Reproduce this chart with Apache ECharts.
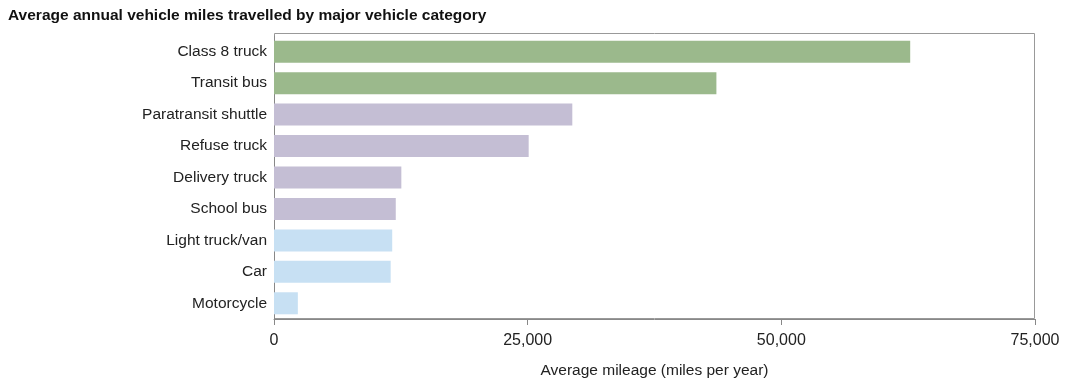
<!DOCTYPE html>
<html>
<head>
<meta charset="utf-8">
<script src="https://cdn.jsdelivr.net/npm/echarts@6/dist/echarts.min.js"></script>
<style>
html,body{margin:0;padding:0;background:#fff;}
#c{width:1080px;height:392px;}
</style>
</head>
<body>
<div id="c"></div>
<script>
var categories = ["Class 8 truck","Transit bus","Paratransit shuttle","Refuse truck","Delivery truck","School bus","Light truck/van","Car","Motorcycle"];
var mileage = [62700, 43600, 29400, 25100, 12550, 12000, 11650, 11500, 2350];
var groups = [0, 0, 1, 1, 1, 1, 2, 2, 2];
var groupColors = ["#9bb98c", "#c4bed4", "#c7e0f3"];
var xTicks = [0, 25000, 50000, 75000];

var chart = echarts.init(document.getElementById('c'), null, {renderer: 'canvas'});
var font = "Liberation Sans, Arial, Helvetica, sans-serif";
chart.setOption({
  animation: false,
  backgroundColor: '#fff',
  title: {
    text: 'Average annual vehicle miles travelled by major vehicle category',
    left: 3, top: 3,
    textStyle: {fontFamily: font, fontSize: 15.5, fontWeight: 'bold', color: '#111'}
  },
  graphic: [{
    type: 'rect', silent: true, z: 0,
    shape: {x: 274.5, y: 33.5, width: 760, height: 285},
    style: {fill: 'none', stroke: '#999', lineWidth: 1}
  }],
  grid: {left: 274, right: 45, top: 36, bottom: 73, show: false},
  xAxis: {
    type: 'value', min: xTicks[0], max: xTicks[xTicks.length-1], interval: 25000,
    name: 'Average mileage (miles per year)', nameLocation: 'middle', nameGap: 44,
    nameTextStyle: {fontFamily: font, fontSize: 15.5, color: '#222'},
    axisLine: {show: true, lineStyle: {color: '#888'}},
    axisTick: {show: true, length: 6, lineStyle: {color: '#888'}},
    splitLine: {show: false},
    axisLabel: {fontFamily: font, fontSize: 16, color: '#222', margin: 14,
      formatter: function (v) { return v.toLocaleString('en-US'); }}
  },
  yAxis: {
    type: 'category', data: categories, inverse: true,
    axisLine: {show: true, lineStyle: {color: '#888'}},
    axisTick: {show: false},
    axisLabel: {fontFamily: font, fontSize: 15.5, color: '#222', margin: 7}
  },
  series: [{
    type: 'bar', barCategoryGap: '30%',
    data: mileage.map(function (v, i) { return {value: v, itemStyle: {color: groupColors[groups[i]]}}; })
  }]
});
</script>
</body>
</html>
